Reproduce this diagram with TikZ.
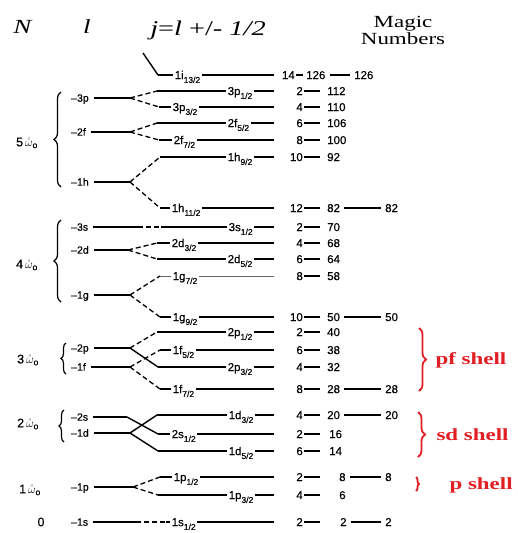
\documentclass[tikz,border=0pt]{standalone}
\usepackage{fontspec}
\setmainfont[FakeBold=0.4]{Liberation Sans}
\newfontfamily\headfont[FakeStretch=1.35]{Liberation Serif}
\usetikzlibrary{decorations.pathreplacing}
\definecolor{shellred}{RGB}{225,30,35}
\newcommand{\sbs}[1]{\raisebox{-3.8pt}{\fontsize{8.5}{8.5}\selectfont #1}}
\newcommand{\hw}[1]{#1\,$\mathring{\omega}_{\mathrm{o}}$}

\begin{document}
\begin{tikzpicture}[x=1pt, y=-1pt,
    lvl/.style={line width=1.4pt},
    thk/.style={line width=2.4pt},
    thn/.style={line width=0.7pt, black!60},
    split/.style={line width=1.3pt, dash pattern=on 5pt off 3pt},
    llab/.style={anchor=west, font=\fontsize{10.5}{10.5}\selectfont,
        inner sep=1pt, text height=7.4pt, text depth=0pt},
    jlab/.style={anchor=west, font=\fontsize{11.5}{11.5}\selectfont,
        inner xsep=1.5pt, inner ysep=0pt, text height=8.2pt, text depth=0pt},
    num/.style={font=\fontsize{11.5}{11.5}\selectfont,
        inner xsep=1pt, inner ysep=0pt, text height=8.2pt, text depth=0pt},
    osc/.style={font=\fontsize{12.5}{12.5}\selectfont},
    hdr/.style={font=\headfont\fontsize{20}{21}\selectfont},
    shell/.style={anchor=west, text=shellred,
        font=\headfont\bfseries\fontsize{17}{18}\selectfont},
    brc/.style={decorate, decoration={brace, amplitude=7pt}, line width=1.2pt},
    rbrc/.style={decorate, decoration={brace, amplitude=7pt},
        line width=1.8pt, shellred}
]
\useasboundingbox (0,0) rectangle (517,533);

% column headings
\node[hdr] (hN) at (23,27) {\textit{N}};
\node[hdr] (hl) at (87,27) {\textit{l}};
\node[hdr, font=\headfont\fontsize{21}{22}\selectfont]
    (hj) at (208,30) {\textit{j}=\textit{l} +/- \textit{1/2}};
\node[hdr, align=center, font=\headfont\fontsize{17}{17}\selectfont]
    (hmag) at (403,30) {Magic\\Numbers};

% oscillator shells
\node[osc] (n5) at (27,143) {\hw{5}};
\node[osc] (n4) at (27,265) {\hw{4}};
\node[osc] (n3) at (28,360) {\hw{3}};
\node[osc] (n2) at (28,424) {\hw{2}};
\node[osc] (n1) at (30,490) {\hw{1}};
\node[osc] (n0) at (41,522) {0};
\draw[brc] (61,187) -- (61,92);
\draw[brc] (61,302) -- (61,220);
\draw[brc, decoration={brace, amplitude=5pt}] (66,374) -- (66,343);
\draw[brc, decoration={brace, amplitude=5pt}] (64,442) -- (64,410);

% l levels
\foreach \n/\y/\sx in {3p/98/130, 2f/132/130, 1h/182/130, 3s/227/138,
        2d/250/128, 1g/295/130, 2p/348/130, 1f/367/130,
        2s/417/127, 1d/433/130, 1p/487/133, 1s/522/136}{
    \node[llab] (l\n) at (70,\y) {--\n};
    \coordinate (s\n) at (\sx,\y);
    \draw[lvl, shorten <=4pt] (l\n) -- (s\n);
}

% j levels
\foreach \n/\y/\x/\txt/\sty/\ax in {
        1i13/75/173/{1i\sbs{13/2}}/thk/158,
        3p1/91/226/{3p\sbs{1/2}}/lvl/157,
        3p3/107/171/{3p\sbs{3/2}}/lvl/159,
        2f5/123/226/{2f\sbs{5/2}}/lvl/157,
        2f7/140/172/{2f\sbs{7/2}}/lvl/159,
        1h9/157/226/{1h\sbs{9/2}}/lvl/160,
        1h11/208/170/{1h\sbs{11/2}}/lvl/160,
        3s1/227/227/{3s\sbs{1/2}}/lvl/161,
        2d3/243/170/{2d\sbs{3/2}}/lvl/157,
        2d5/259/226/{2d\sbs{5/2}}/lvl/157,
        1g7/276/171/{1g\sbs{7/2}}/thn/160,
        1g9/317/171/{1g\sbs{9/2}}/lvl/160,
        2p1/332/226/{2p\sbs{1/2}}/lvl/157,
        1f5/350/171/{1f\sbs{5/2}}/thk/160,
        2p3/367/226/{2p\sbs{3/2}}/lvl/158,
        1f7/389/171/{1f\sbs{7/2}}/lvl/160,
        1d3/415/227/{1d\sbs{3/2}}/lvl/157,
        2s1/434/170/{2s\sbs{1/2}}/lvl/158,
        1d5/451/227/{1d\sbs{5/2}}/thk/158,
        1p1/477/172/{1p\sbs{1/2}}/lvl/160,
        1p3/495/227/{1p\sbs{3/2}}/lvl/158,
        1s1/522/170/{1s\sbs{1/2}}/lvl/166}{
    \node[jlab] (j\n) at (\x,\y) {\txt};
    \coordinate (a\n) at (\ax,\y);
    \coordinate (b\n) at (274,\y);
    \draw[\sty] (a\n) -- (j\n);
    \draw[\sty] (j\n) -- (b\n);
}

% spin-orbit splitting
\coordinate (itop) at (143,53);
\draw[lvl] (itop) -- (a1i13);
\foreach \p/\q/\sty in {3p/3p1/split, 3p/3p3/split, 2f/2f5/split,
        2f/2f7/split, 1h/1h9/split, 1h/1h11/split, 3s/3s1/split,
        2d/2d3/split, 2d/2d5/split, 1g/1g7/split, 1g/1g9/split,
        2p/2p1/split, 2p/2p3/lvl, 1f/1f5/split, 1f/1f7/split,
        2s/2s1/lvl, 1d/1d3/lvl, 1d/1d5/lvl, 1p/1p1/split,
        1p/1p3/split, 1s/1s1/split}{
    \draw[\sty] (s\p) -- (a\q);
}

% occupation and running totals
\node[num, anchor=east] (c1i13) at (296,75) {14};
\coordinate (d1i13) at (303,75);
\node[num, anchor=west] (t1i13) at (305,75) {126};
\draw[lvl] (c1i13) -- (d1i13);
\foreach \n/\y/\c/\tot/\tx in {3p1/91/2/112/326, 3p3/107/4/110/326,
        2f5/123/6/106/326, 2f7/140/8/100/326, 1h9/157/10/92/326,
        1h11/208/12/82/326, 3s1/227/2/70/326, 2d3/243/4/68/326,
        2d5/259/6/64/326, 1g7/276/8/58/326, 1g9/317/10/50/326,
        2p1/332/2/40/326, 1f5/350/6/38/326, 2p3/367/4/32/326,
        1f7/389/8/28/326, 1d3/415/4/20/326, 2s1/434/2/16/328,
        1d5/451/6/14/328, 1p1/477/2/8/338, 1p3/495/4/6/338,
        1s1/522/2/2/339}{
    \node[num, anchor=east] (c\n) at (304,\y) {\c};
    \coordinate (d\n) at (320,\y);
    \node[num, anchor=west] (t\n) at (\tx,\y) {\tot};
    \draw[lvl] (c\n) -- (d\n);
}

% magic numbers
\foreach \n/\mx/\m in {1i13/353/126, 1h11/384/82, 1g9/384/50, 1f7/384/28,
        1d3/384/20, 1p1/384/8, 1s1/384/2}{
    \node[num, anchor=west] (m\n) at (t\n -| \mx,0) {\m};
    \draw[lvl, shorten <=3pt, shorten >=3pt] (t\n) -- (m\n);
}

% shell groups
\draw[rbrc] (419,328) -- (419,391);
\node[shell] (pf) at (432,360) {pf shell};
\draw[rbrc] (418,412) -- (418,457);
\node[shell] (sd) at (433,435) {sd shell};
\draw[rbrc, decoration={brace, amplitude=3pt}] (416,477) -- (416,491);
\node[shell] (ps) at (446,485) {p shell};
\end{tikzpicture}
\end{document}
